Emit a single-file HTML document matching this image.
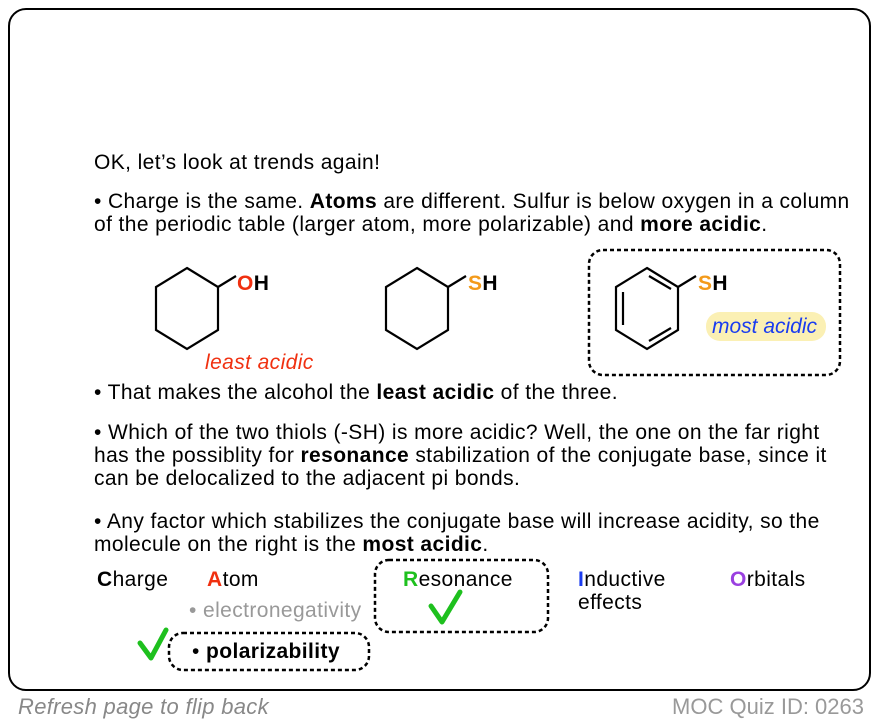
<!DOCTYPE html>
<html><head><meta charset="utf-8"><style>
body{margin:0;width:878px;height:724px;background:#fff;position:relative;font-family:"Liberation Sans",Arial,sans-serif;overflow:hidden}
.card{position:absolute;left:8px;top:8px;width:859px;height:679px;border:2px solid #000;border-radius:18px}
.t{position:absolute;font-size:21px;letter-spacing:0.4px;line-height:23px;color:#000;white-space:nowrap}
b{font-weight:bold}
</style></head><body>
<div class="card"></div>
<div class="t" style="left:94px;top:151px">OK, let’s look at trends again!</div>
<div class="t" style="left:94px;top:190px">• Charge is the same. <b>Atoms</b> are different. Sulfur is below oxygen in a column<br>of the periodic table (larger atom, more polarizable) and <b>more acidic</b>.</div>
<div class="t" style="left:94px;top:381px">• That makes the alcohol the <b>least acidic</b> of the three.</div>
<div class="t" style="left:94px;top:421px">• Which of the two thiols (-SH) is more acidic? Well, the one on the far right<br>has the possiblity for <b>resonance</b> stabilization of the conjugate base, since it<br>can be delocalized to the adjacent pi bonds.</div>
<div class="t" style="left:94px;top:510px">• Any factor which stabilizes the conjugate base will increase acidity, so the<br>molecule on the right is the <b>most acidic</b>.</div>

<svg width="878" height="724" style="position:absolute;left:0;top:0" fill="none" stroke="#000" stroke-width="2.2">
<polygon points="187,268 218,287 218,330 187,349 156,330 156,287"/>
<line x1="218" y1="287" x2="236" y2="276"/>
<polygon points="417,268 448,287 448,330 417,349 386,330 386,287"/>
<line x1="448" y1="287" x2="466" y2="276"/>
<polygon points="647,268 678,287 678,330 647,349 616,330 616,287"/>
<line x1="678" y1="287" x2="696" y2="276"/>
<line x1="623" y1="292" x2="623" y2="325"/>
<line x1="649" y1="276" x2="671" y2="289"/>
<line x1="671" y1="328" x2="649" y2="341"/>
<rect x="589" y="250" width="251" height="125" rx="14" stroke-dasharray="4,3" stroke-width="2.5"/>
<rect x="375" y="560" width="173" height="72" rx="14" stroke-dasharray="4,3" stroke-width="2.5"/>
<rect x="169" y="633" width="200" height="37" rx="14" stroke-dasharray="4,3" stroke-width="2.5"/>
<rect x="706" y="312" width="120" height="29" rx="14" fill="#fbf0b4" stroke="none"/>
<path d="M431,606 L442,622 L460,592" stroke="#1ec01e" stroke-width="5" stroke-linecap="round" stroke-linejoin="round"/>
<path d="M140,643 L151,658 L166,630" stroke="#1ec01e" stroke-width="5" stroke-linecap="round" stroke-linejoin="round"/>
</svg>

<div class="t" style="left:237px;top:272px;font-weight:bold"><span style="color:#f03010">O</span>H</div>
<div class="t" style="left:468px;top:272px;font-weight:bold"><span style="color:#f39a1a">S</span>H</div>
<div class="t" style="left:698px;top:272px;font-weight:bold"><span style="color:#f39a1a">S</span>H</div>
<div class="t" style="left:205px;top:351px;color:#f03010;font-style:italic">least acidic</div>
<div class="t" style="left:712px;top:315px;color:#1a3cf0;font-style:italic;font-size:21px;letter-spacing:0">most acidic</div>

<div class="t" style="left:97px;top:568px"><b>C</b>harge</div>
<div class="t" style="left:207px;top:568px"><b style="color:#f03010">A</b>tom</div>
<div class="t" style="left:403px;top:568px"><b style="color:#1ec01e">R</b>esonance</div>
<div class="t" style="left:578px;top:568px"><b style="color:#1a3cf0">I</b>nductive<br>effects</div>
<div class="t" style="left:730px;top:568px"><b style="color:#9a40e0">O</b>rbitals</div>
<div class="t" style="left:189px;top:599px;color:#999">• electronegativity</div>
<div class="t" style="left:192px;top:640px">• <b>polarizability</b></div>

<div class="t" style="left:18px;top:695px;color:#888;font-style:italic;font-size:22px;letter-spacing:0.3px">Refresh page to flip back</div>
<div class="t" style="right:14px;top:695px;color:#999;font-size:22px;letter-spacing:0">MOC Quiz ID: 0263</div>
</body></html>
